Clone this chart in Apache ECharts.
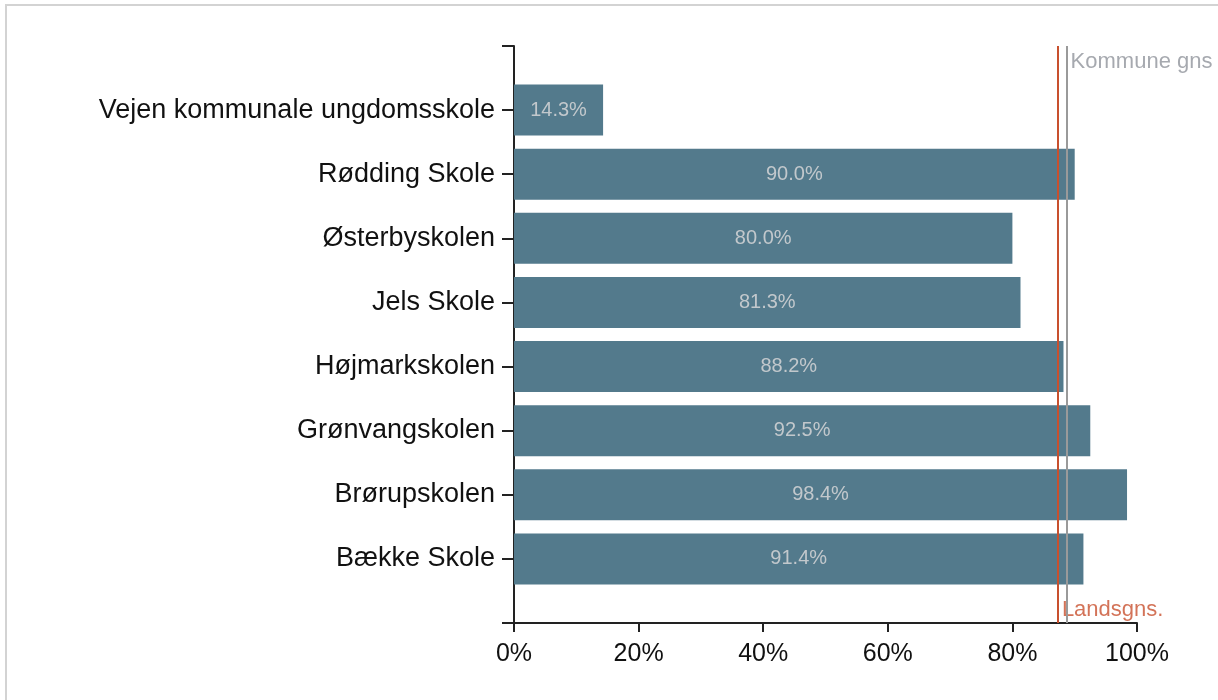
<!DOCTYPE html>
<html>
<head>
<meta charset="utf-8">
<script src="https://cdn.jsdelivr.net/npm/echarts@6/dist/echarts.min.js"></script>
<style>
  html, body { margin: 0; padding: 0; background: #fff; }
  #frame {
    position: absolute; left: 5px; top: 4px; width: 1300px; height: 800px;
    border-left: 2px solid #d3d3d3; border-top: 2px solid #d3d3d3;
  }
  #chart { position: absolute; left: 0; top: 0; width: 1218px; height: 700px; }
</style>
</head>
<body>
<div id="frame"></div>
<div id="chart"></div>
<script>
// skoler, i rækkefølge fra toppen
const schools = [
  'Vejen kommunale ungdomsskole',
  'Rødding Skole',
  'Østerbyskolen',
  'Jels Skole',
  'Højmarkskolen',
  'Grønvangskolen',
  'Brørupskolen',
  'Bække Skole'
]
const shares = [14.3, 90.0, 80.0, 81.3, 88.2, 92.5, 98.4, 91.4]
const xTicks = [0, 20, 40, 60, 80, 100]
const kommuneAvg = 88.7
const landsAvg = 87.3

const chart = echarts.init(document.getElementById('chart'))

// grid 0: akser, etiketter og gennemsnitslinjer (y = 0..9, skolerne på 1..8)
// grid 1: selve søjlerne, samme bånd men uden den halve luft i enderne
const option = {
  animation: false,
  textStyle: { fontFamily: 'Liberation Sans, Arial, sans-serif' },
  grid: [
    { left: 514, right: 81, top: 46, bottom: 77 },
    { left: 514, right: 81, top: 78, bottom: 109 }
  ],
  xAxis: [
    {
      gridIndex: 0,
      type: 'value',
      min: xTicks[0],
      max: xTicks[xTicks.length - 1],
      interval: 20,
      axisLine: { show: true, onZero: false, lineStyle: { color: '#222', width: 2 } },
      axisTick: { show: true, length: 9, lineStyle: { color: '#222', width: 2 } },
      axisLabel: { formatter: '{value}%', color: '#111', fontSize: 25, margin: 19 },
      splitLine: { show: false }
    },
    {
      gridIndex: 1,
      type: 'value',
      min: 0,
      max: 100,
      show: false
    }
  ],
  yAxis: [
    {
      gridIndex: 0,
      type: 'value',
      inverse: true,
      min: 0,
      max: schools.length + 1,
      interval: 1,
      axisLine: { show: true, onZero: false, lineStyle: { color: '#222', width: 2 } },
      axisTick: { show: true, length: 12, lineStyle: { color: '#222', width: 2 } },
      axisLabel: {
        color: '#111',
        fontSize: 27,
        margin: 19,
        formatter: (v) => schools[v - 1] || ''
      },
      splitLine: { show: false }
    },
    {
      gridIndex: 1,
      type: 'category',
      inverse: true,
      data: schools,
      show: false
    }
  ],
  series: [
    {
      type: 'bar',
      xAxisIndex: 1,
      yAxisIndex: 1,
      data: shares,
      barWidth: 51,
      itemStyle: { color: '#537a8c' },
      label: {
        show: true,
        position: 'inside',
        color: '#c2c8cc',
        fontSize: 20,
        formatter: (p) => p.value.toFixed(1) + '%'
      }
    },
    {
      type: 'scatter',
      xAxisIndex: 0,
      yAxisIndex: 0,
      symbolSize: 0,
      silent: true,
      data: [
        { value: [kommuneAvg, 0.25], label: { formatter: 'Kommune gns', color: '#90949b' } },
        { value: [landsAvg, 8.8], label: { formatter: 'Landsgns.', color: '#c8502e' } }
      ],
      label: { show: true, position: 'right', distance: 4, fontSize: 22 },
      markLine: {
        silent: true,
        symbol: 'none',
        label: { show: false },
        data: [
          [{ coord: [landsAvg, 0], lineStyle: { color: '#c8502e', width: 2, type: 'solid' } }, { coord: [landsAvg, schools.length + 1] }],
          [{ coord: [kommuneAvg, 0], lineStyle: { color: '#9a9a9a', width: 2, type: 'solid' } }, { coord: [kommuneAvg, schools.length + 1] }]
        ]
      }
    }
  ]
}

chart.setOption(option)
</script>
</body>
</html>
